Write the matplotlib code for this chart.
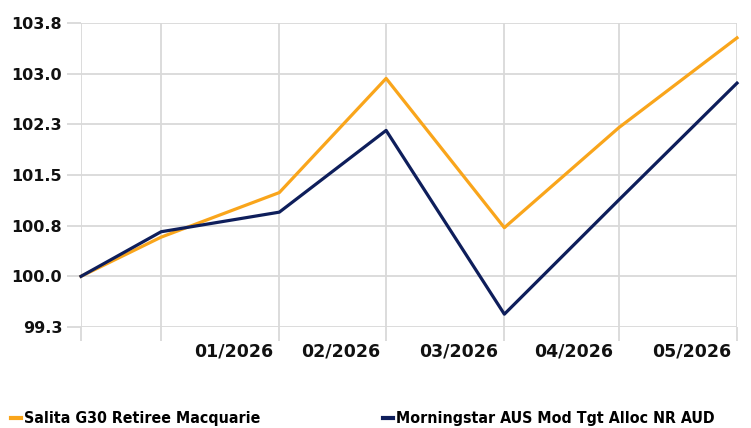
import matplotlib
matplotlib.use('Agg')
import matplotlib.pyplot as plt
import matplotlib.transforms as mtransforms
from matplotlib.lines import Line2D
from datetime import datetime

# chart data
dates = ['2025-12-10', '2025-12-31', '2026-01-31', '2026-02-28',
         '2026-03-31', '2026-04-30', '2026-05-31']
date_labels = ['', '', '01/2026', '02/2026', '03/2026', '04/2026', '05/2026']
salita = [100.0, 100.58, 101.24, 102.93, 100.72, 102.2, 103.53]
morningstar = [100.0, 100.66, 100.95, 102.16, 99.44, 101.13, 102.86]
y_ticks = [99.25, 100.0, 100.75, 101.5, 102.25, 103.0, 103.75]
y_labels = ['99.3', '100.0', '100.8', '101.5', '102.3', '103.0', '103.8']
series_names = ['Salita G30 Retiree Macquarie', 'Morningstar AUS Mod Tgt Alloc NR AUD']

orange = '#F9A51B'
navy = '#0E1E5B'
grid_col = '#D9D9D9'

x = [datetime.strptime(d, '%Y-%m-%d') for d in dates]

fig = plt.figure(figsize=(7.51, 4.28), dpi=100)
ax = fig.add_axes([81 / 751, (428 - 327) / 428, (737 - 81) / 751, (327 - 23) / 428])

ax.plot(x, salita, color=orange, lw=2.3, clip_on=False, zorder=3)
ax.plot(x, morningstar, color=navy, lw=2.3, clip_on=False, zorder=3)

ax.set_xlim(x[0], x[-1])
ax.set_ylim(y_ticks[0], y_ticks[-1])
ax.set_xticks(x)
ax.set_xticklabels(date_labels)
ax.set_yticks(y_ticks)
ax.set_yticklabels(y_labels)

for s in ax.spines.values():
    s.set_visible(False)
ax.grid(True, color=grid_col, lw=1.3)
ax.set_axisbelow(True)
ax.tick_params(axis='both', length=10, width=1.3, color=grid_col)
ax.tick_params(axis='x', pad=1.5, labelsize=12.5)
ax.tick_params(axis='y', pad=3.5, labelsize=11.5)

# x labels sit to the left of their gridline
shift = mtransforms.ScaledTranslation(-6 / 100, 0, fig.dpi_scale_trans)
for lbl in ax.get_xticklabels():
    lbl.set_horizontalalignment('right')
    lbl.set_transform(lbl.get_transform() + shift)
for lbl in ax.get_xticklabels() + ax.get_yticklabels():
    lbl.set_fontweight('bold')
    lbl.set_color('#111111')

# legend, one entry per side
for name, col, xpos in [(series_names[0], orange, 11), (series_names[1], navy, 383)]:
    h = Line2D([], [], color=col, lw=3)
    fig.legend([h], [name], loc='center left', bbox_to_anchor=(xpos / 751, 9 / 428),
               frameon=False, borderpad=0, borderaxespad=0, handlelength=0.65,
               handletextpad=0.15,
               prop={'family': 'DejaVu Sans', 'stretch': 'condensed',
                     'weight': 'bold', 'size': 11.4})

fig.savefig('out.png', dpi=100)
